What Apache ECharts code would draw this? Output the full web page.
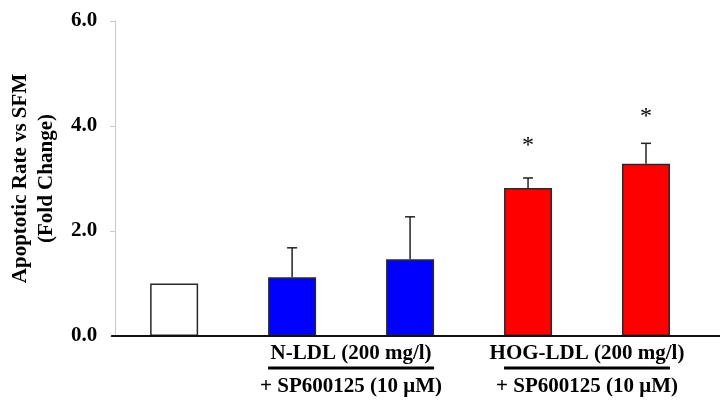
<!DOCTYPE html>
<html><head><meta charset="utf-8">
<script src="https://cdn.jsdelivr.net/npm/echarts@6/dist/echarts.min.js"></script>
<style>html,body{margin:0;padding:0;background:#fff}#c{width:720px;height:401px}</style>
</head><body><div id="c"></div>
<script>
// ---- data ----
const categories = ['SFM', 'N-LDL', 'N-LDL + SP600125', 'HOG-LDL', 'HOG-LDL + SP600125'];
const means = [1.0, 1.12, 1.46, 2.82, 3.28];
const errorTops = [1.0, 1.68, 2.27, 3.01, 3.67];
const starAt = [null, null, null, 3.67, 4.21];
const barColors = ['#ffffff', '#0000ff', '#0000ff', '#ff0000', '#ff0000'];
const yTicks = [0, 2, 4, 6];
const yTitle = 'Apoptotic Rate vs SFM\n(Fold Change)';
const groupTop = ['N-LDL (200 mg/l)', 'HOG-LDL (200 mg/l)'];
const groupBottom = ['+ SP600125 (10 μM)', '+ SP600125 (10 μM)'];
const groupSpan = [[1, 2], [3, 4]];

const FONT = '"Liberation Serif", "Times New Roman", serif';
const chart = echarts.init(document.getElementById('c'), null, {renderer: 'canvas'});

const option = {
  animation: false,
  backgroundColor: '#fff',
  grid: {left: 110, right: 15, top: 21, bottom: 65, containLabel: false},
  xAxis: {
    type: 'category', data: categories,
    axisLine: {show: false}, axisTick: {show: false}, axisLabel: {show: false}
  },
  yAxis: {
    type: 'value', min: yTicks[0], max: yTicks[yTicks.length - 1], interval: yTicks[1] - yTicks[0],
    axisLine: {show: true, lineStyle: {color: '#c8c8c8', width: 1}},
    axisTick: {show: true, length: 5, lineStyle: {color: '#c8c8c8'}},
    splitLine: {show: false},
    axisLabel: {formatter: v => v.toFixed(1), color: '#000', fontFamily: FONT, fontWeight: 'bold', fontSize: 21, margin: 18},
    name: yTitle, nameLocation: 'middle', nameGap: 55,
    nameTextStyle: {color: '#000', fontFamily: FONT, fontWeight: 'bold', fontSize: 21, lineHeight: 26}
  },
  series: [
    {
      type: 'bar', barWidth: 48,
      data: means.map((v, i) => ({value: v, itemStyle: {color: barColors[i]}})),
      itemStyle: {borderColor: '#2a2a2a', borderWidth: 1.5},
      z: 2
    },
    {
      type: 'custom', z: 3,
      data: means.map((m, i) => [i, m, errorTops[i], starAt[i] == null ? -1 : starAt[i]]),
      renderItem: function (params, api) {
        const i = api.value(0), m = api.value(1), e = api.value(2), s = api.value(3);
        const children = [];
        if (e > m) {
          const p1 = api.coord([i, m]);
          const p2 = api.coord([i, e]);
          children.push({type: 'line', shape: {x1: p1[0], y1: p1[1], x2: p2[0], y2: p2[1]}, style: {stroke: '#222', lineWidth: 1.5}});
          children.push({type: 'line', shape: {x1: p2[0] - 5, y1: p2[1], x2: p2[0] + 5, y2: p2[1]}, style: {stroke: '#222', lineWidth: 1.5}});
        }
        if (s > 0) {
          const ps = api.coord([i, s]);
          children.push({type: 'text', x: ps[0], y: ps[1] + 2, style: {text: '*', fill: '#000', font: '24px ' + FONT, align: 'center', verticalAlign: 'middle'}});
        }
        return {type: 'group', children: children};
      }
    }
  ]
};
chart.setOption(option);

// baseline and group annotations from axis scales
const y0 = chart.convertToPixel({yAxisIndex: 0}, 0);
const px = i => chart.convertToPixel({xAxisIndex: 0}, i);
const band = px(1) - px(0);
const barW = 48;
const gridLeft = px(0) - band / 2;
const elements = [
  {type: 'line', z: 10, shape: {x1: gridLeft - 4, y1: y0, x2: chart.getWidth(), y2: y0}, style: {stroke: '#111', lineWidth: 2}}
];
groupSpan.forEach((sp, k) => {
  const cx = (px(sp[0]) + px(sp[1])) / 2;
  elements.push({type: 'text', z: 10, x: cx, y: y0 + 18, style: {text: groupTop[k], fill: '#000', font: 'bold 21px ' + FONT, align: 'center', verticalAlign: 'middle'}});
  elements.push({type: 'line', z: 10, shape: {x1: px(sp[0]) - barW / 2, y1: y0 + 32, x2: px(sp[1]) + barW / 2, y2: y0 + 32}, style: {stroke: '#000', lineWidth: 3}});
  elements.push({type: 'text', z: 10, x: cx, y: y0 + 51, style: {text: groupBottom[k], fill: '#000', font: 'bold 21px ' + FONT, align: 'center', verticalAlign: 'middle'}});
});
chart.setOption({graphic: {elements: elements}});
</script>
</body></html>
